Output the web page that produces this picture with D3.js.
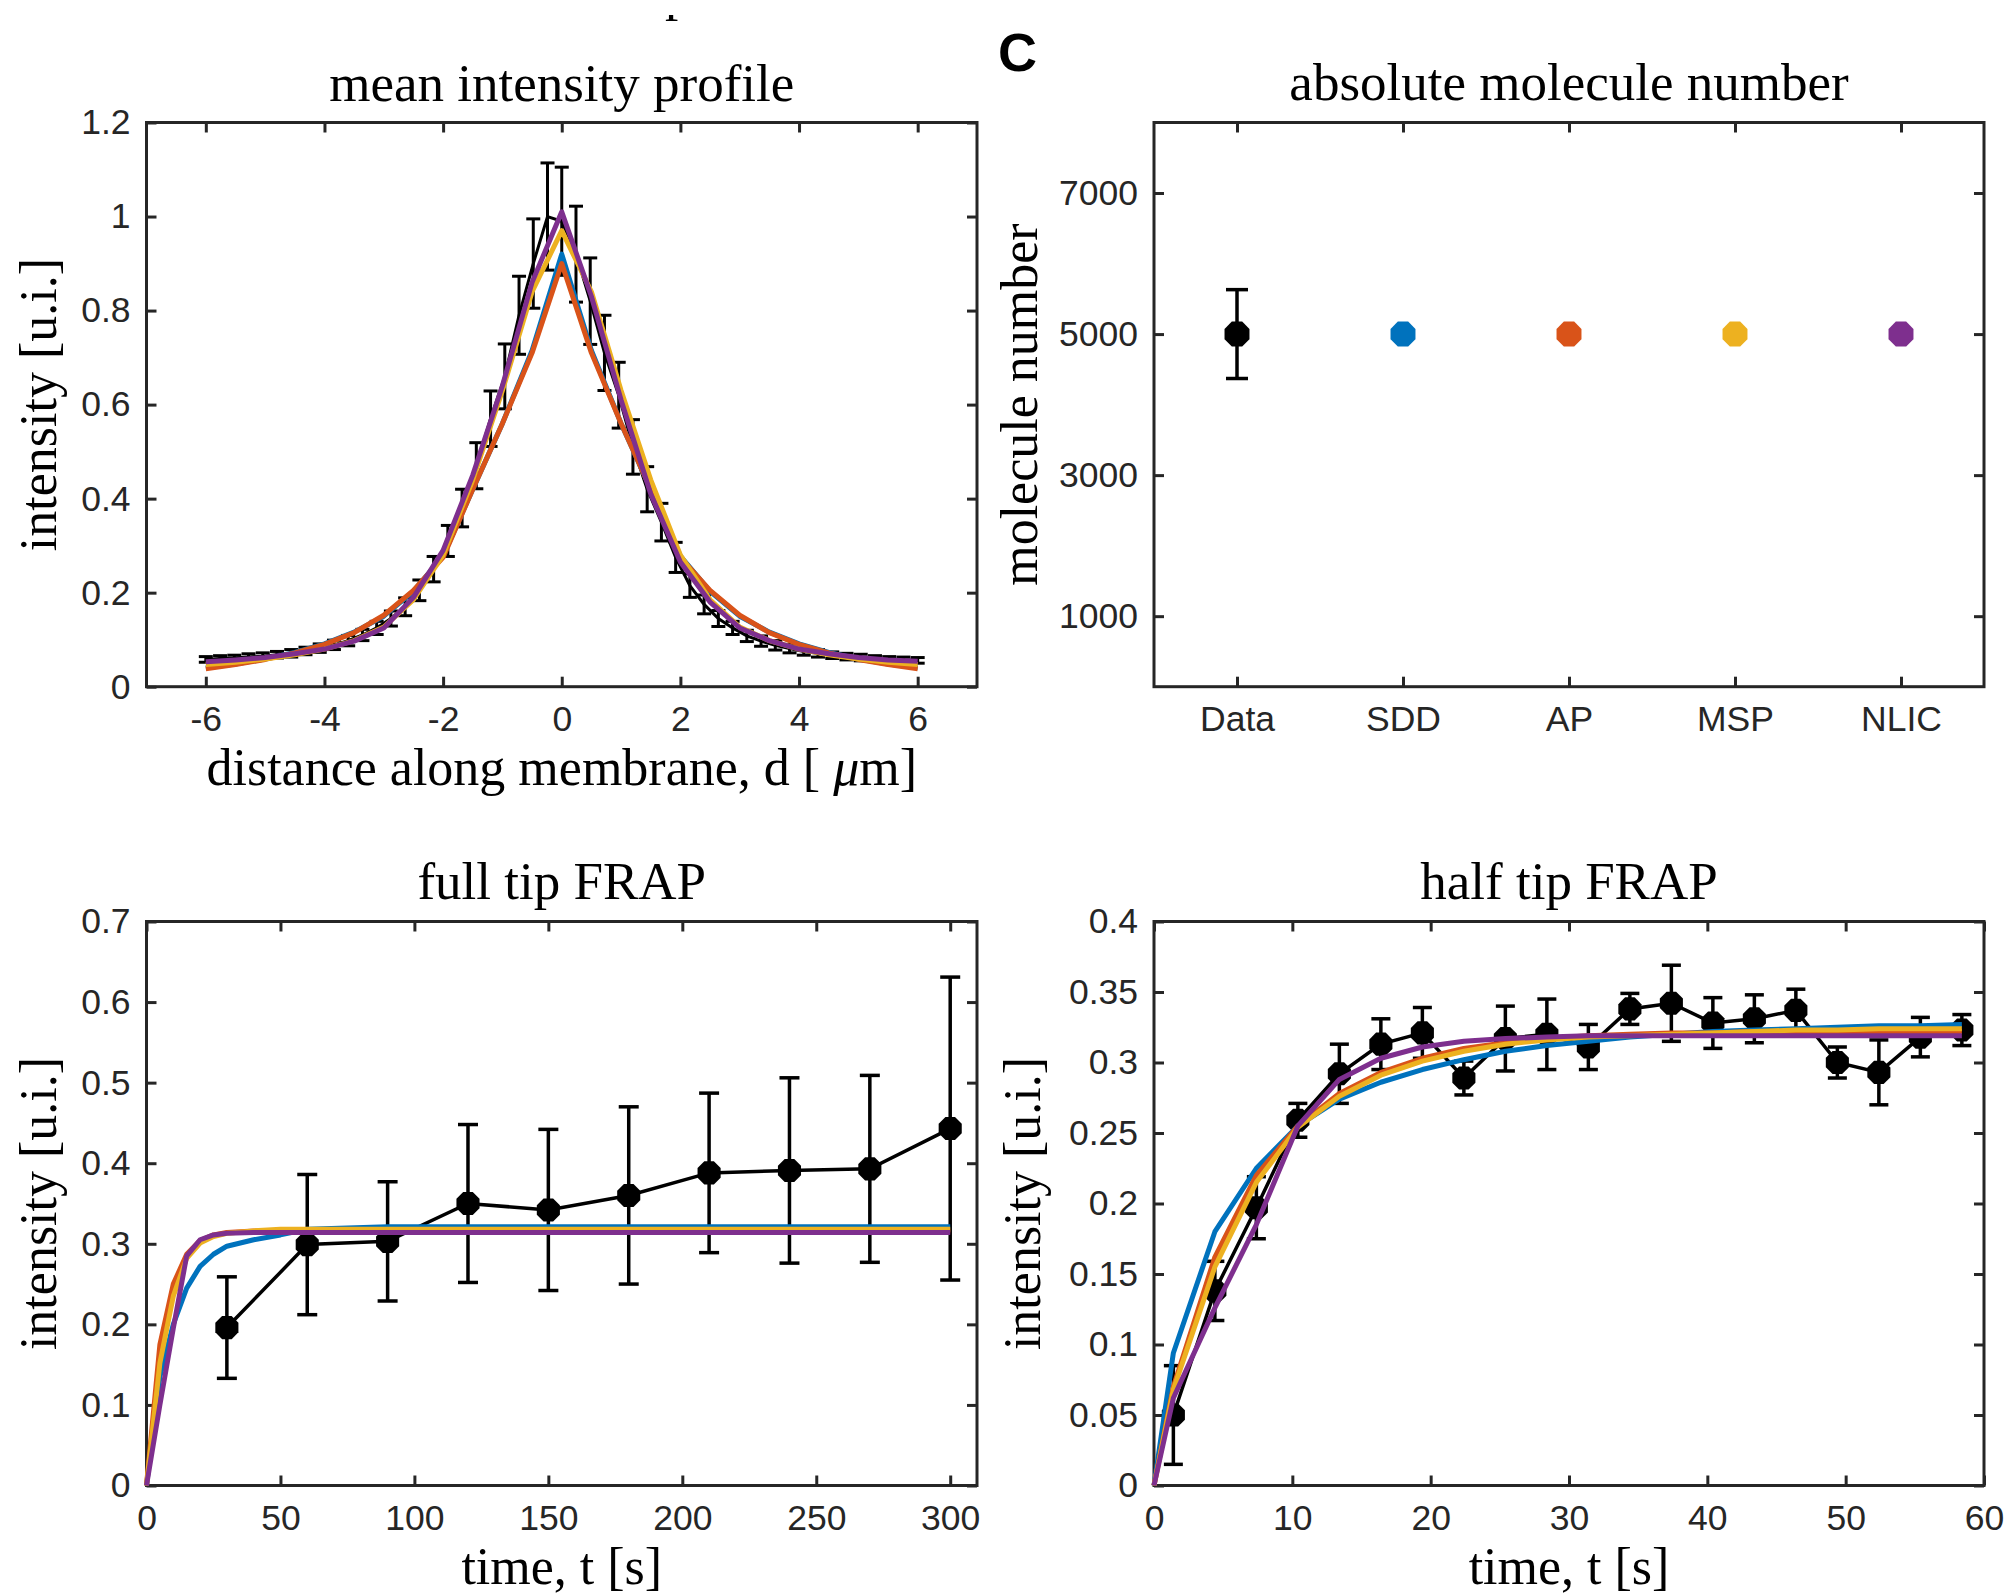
<!DOCTYPE html>
<html>
<head>
<meta charset="utf-8">
<script src="https://cdn.jsdelivr.net/npm/d3@7"></script>
<style>
  body { margin: 0; background: #fff; }
  svg { display: block; }
</style>
</head>
<body>
<div id="chart-area"></div>
<script>
// ---- data: mean intensity profile ----
const profileX = [-6, -5.76, -5.52, -5.28, -5.04, -4.8, -4.56, -4.32, -4.08, -3.84, -3.6, -3.36, -3.12,
  -2.88, -2.64, -2.4, -2.16, -1.92, -1.68, -1.44, -1.2, -0.96, -0.72, -0.48, -0.24, 0,
  0.24, 0.48, 0.72, 0.96, 1.2, 1.44, 1.68, 1.92, 2.16, 2.4, 2.64, 2.88, 3.12, 3.36, 3.6,
  3.84, 4.08, 4.32, 4.56, 4.8, 5.04, 5.28, 5.52, 5.76, 6]
const profileMean = [0.058, 0.060, 0.061, 0.063, 0.065, 0.068, 0.071, 0.076, 0.082, 0.089, 0.098, 0.110, 0.125,
  0.145, 0.170, 0.205, 0.250, 0.310, 0.380, 0.470, 0.570, 0.660, 0.790, 0.900, 1.000, 0.990,
  0.920, 0.820, 0.710, 0.620, 0.510, 0.420, 0.350, 0.275, 0.215, 0.175, 0.145, 0.125, 0.108, 0.097, 0.088,
  0.081, 0.075, 0.071, 0.067, 0.064, 0.062, 0.060, 0.058, 0.057, 0.056]
const profileErr = [0.006, 0.006, 0.006, 0.007, 0.007, 0.007, 0.008, 0.008, 0.009, 0.010, 0.011, 0.012, 0.014,
  0.016, 0.019, 0.022, 0.027, 0.033, 0.040, 0.049, 0.059, 0.069, 0.083, 0.095, 0.114, 0.115,
  0.102, 0.092, 0.080, 0.070, 0.058, 0.048, 0.040, 0.032, 0.025, 0.020, 0.017, 0.014, 0.012, 0.011, 0.010,
  0.009, 0.008, 0.008, 0.007, 0.007, 0.007, 0.006, 0.006, 0.006, 0.006]
const fitX = [-6, -5.5, -5, -4.5, -4, -3.5, -3, -2.5, -2, -1.5, -1, -0.5, 0, 0.5, 1, 1.5, 2, 2.5, 3, 3.5, 4, 4.5, 5, 5.5, 6]
const profileSDD  = [0.040, 0.048, 0.059, 0.073, 0.091, 0.116, 0.150, 0.203, 0.278, 0.420, 0.560, 0.715, 0.920, 0.715, 0.560, 0.420, 0.278, 0.203, 0.150, 0.116, 0.091, 0.073, 0.059, 0.048, 0.040]
const profileAP   = [0.038, 0.047, 0.058, 0.072, 0.090, 0.115, 0.152, 0.205, 0.275, 0.420, 0.560, 0.710, 0.900, 0.710, 0.560, 0.420, 0.275, 0.205, 0.152, 0.115, 0.090, 0.072, 0.058, 0.047, 0.038]
const profileMSP  = [0.047, 0.052, 0.059, 0.068, 0.080, 0.098, 0.127, 0.185, 0.280, 0.440, 0.630, 0.840, 0.970, 0.840, 0.630, 0.440, 0.280, 0.185, 0.127, 0.098, 0.080, 0.068, 0.059, 0.052, 0.047]
const profileNLIC = [0.053, 0.057, 0.062, 0.070, 0.080, 0.097, 0.125, 0.190, 0.290, 0.450, 0.640, 0.860, 1.010, 0.830, 0.610, 0.410, 0.265, 0.180, 0.125, 0.098, 0.080, 0.070, 0.062, 0.057, 0.054]

// ---- data: absolute molecule number ----
const moleculeCats = ["Data", "SDD", "AP", "MSP", "NLIC"]
const moleculeVals = [5000, 5000, 5000, 5000, 5000]
const moleculeErr = [630, 0, 0, 0, 0]

// ---- data: full tip FRAP ----
const fullT = [30, 60, 90, 120, 150, 180, 210, 240, 270, 300]
const fullMean = [0.196, 0.299, 0.303, 0.350, 0.342, 0.360, 0.388, 0.391, 0.393, 0.443]
const fullErr = [0.063, 0.087, 0.074, 0.098, 0.100, 0.110, 0.099, 0.115, 0.116, 0.188]
const fullFitT = [0, 5, 10, 15, 20, 25, 30, 40, 50, 60, 90, 300]
const fullSDD  = [0, 0.135, 0.200, 0.245, 0.272, 0.287, 0.297, 0.305, 0.311, 0.318, 0.321, 0.321]
const fullAP   = [0, 0.175, 0.250, 0.287, 0.304, 0.311, 0.314, 0.316, 0.316, 0.316, 0.316, 0.316]
const fullMSP  = [0, 0.152, 0.235, 0.282, 0.301, 0.309, 0.313, 0.316, 0.318, 0.318, 0.318, 0.318]
const fullNLIC = [0, 0.100, 0.195, 0.285, 0.305, 0.311, 0.313, 0.314, 0.314, 0.314, 0.314, 0.314]

// ---- data: half tip FRAP ----
const halfT = [1.4, 4.4, 7.4, 10.4, 13.4, 16.4, 19.4, 22.4, 25.4, 28.4, 31.4, 34.4, 37.4, 40.4, 43.4, 46.4, 49.4, 52.4, 55.4, 58.4]
const halfMean = [0.050, 0.138, 0.197, 0.259, 0.292, 0.313, 0.321, 0.289, 0.317, 0.320, 0.311, 0.338, 0.342, 0.328, 0.331, 0.337, 0.300, 0.293, 0.318, 0.323]
const halfErr = [0.035, 0.021, 0.022, 0.012, 0.021, 0.018, 0.018, 0.012, 0.023, 0.025, 0.016, 0.011, 0.027, 0.018, 0.017, 0.015, 0.011, 0.023, 0.014, 0.011]
const halfFitT = [0, 1.4, 4.4, 7.4, 10.4, 13.4, 16.4, 19.4, 22.4, 25.4, 28.4, 31.4, 34.4, 37.4, 40.4, 43.4, 46.4, 49.4, 52.4, 55.4, 58.4]
const halfSDD  = [0, 0.094, 0.180, 0.225, 0.255, 0.274, 0.286, 0.295, 0.302, 0.308, 0.312, 0.315, 0.318, 0.320, 0.322, 0.323, 0.324, 0.325, 0.326, 0.326, 0.327]
const halfAP   = [0, 0.070, 0.162, 0.220, 0.255, 0.278, 0.293, 0.303, 0.310, 0.314, 0.317, 0.319, 0.320, 0.321, 0.321, 0.322, 0.322, 0.322, 0.322, 0.322, 0.322]
const halfMSP  = [0, 0.068, 0.155, 0.215, 0.254, 0.276, 0.291, 0.301, 0.308, 0.313, 0.316, 0.318, 0.319, 0.320, 0.321, 0.322, 0.323, 0.323, 0.324, 0.324, 0.324]
const halfNLIC = [0, 0.062, 0.126, 0.185, 0.255, 0.288, 0.303, 0.311, 0.315, 0.317, 0.318, 0.319, 0.319, 0.319, 0.319, 0.319, 0.319, 0.319, 0.319, 0.319, 0.319]

// ---- tick labels ----
const profileXTicks = [-6, -4, -2, 0, 2, 4, 6]
const profileYTicks = [0, 0.2, 0.4, 0.6, 0.8, 1, 1.2]
const moleculeYTicks = [1000, 3000, 5000, 7000]
const fullXTicks = [0, 50, 100, 150, 200, 250, 300]
const fullYTicks = [0, 0.1, 0.2, 0.3, 0.4, 0.5, 0.6, 0.7]
const halfXTicks = [0, 10, 20, 30, 40, 50, 60]
const halfYTicks = [0, 0.05, 0.1, 0.15, 0.2, 0.25, 0.3, 0.35, 0.4]

// ---- look ----
const INK = "#262626"
const SANS = "'Liberation Sans', Arial, Helvetica, sans-serif"
const SERIF = "'Liberation Serif', 'Times New Roman', Times, serif"
const MODEL_COLORS = { SDD: "#0072BD", AP: "#D95319", MSP: "#EDB120", NLIC: "#7E2F8E" }

const svg = d3.select("#chart-area").append("svg")
  .attr("width", 2013)
  .attr("height", 1595)

const numFmt = d => String(+d.toFixed(3))

// axes box with inward ticks on all four sides
function frame(box, x, y, o) {
  const g = svg.append("g")
  const xt = o.xTicks, yt = o.yTicks

  g.append("g").attr("transform", `translate(0,${box.y1})`)
    .call(d3.axisBottom(x).tickValues(xt).tickFormat(o.xFmt).tickSizeInner(-10).tickSizeOuter(0))
    .selectAll("text").attr("y", 44).attr("dy", null)
  g.append("g").attr("transform", `translate(0,${box.y0})`)
    .call(d3.axisTop(x).tickValues(xt).tickFormat("").tickSizeInner(-10).tickSizeOuter(0))
  g.append("g").attr("transform", `translate(${box.x0},0)`)
    .call(d3.axisLeft(y).tickValues(yt).tickFormat(numFmt).tickSizeInner(-10).tickSizeOuter(0).tickPadding(16))
  g.append("g").attr("transform", `translate(${box.x1},0)`)
    .call(d3.axisRight(y).tickValues(yt).tickFormat("").tickSizeInner(-10).tickSizeOuter(0))

  g.selectAll(".domain").remove()
  g.selectAll(".tick line").attr("stroke", INK).attr("stroke-width", 3)
  g.selectAll(".tick text")
    .attr("fill", INK)
    .style("font-family", SANS)
    .style("font-size", "35.5px")

  g.append("rect")
    .attr("x", box.x0).attr("y", box.y0)
    .attr("width", box.x1 - box.x0).attr("height", box.y1 - box.y0)
    .attr("fill", "none").attr("stroke", INK).attr("stroke-width", 3)

  const cx = (box.x0 + box.x1) / 2, cy = (box.y0 + box.y1) / 2
  // title
  g.append("text")
    .attr("x", cx).attr("y", o.titleY)
    .attr("text-anchor", "middle")
    .style("font-family", SERIF).style("font-size", "53px")
    .text(o.title)
  // x label
  if (o.xLabel) {
    const t = g.append("text")
      .attr("x", cx).attr("y", box.y1 + 98)
      .attr("text-anchor", "middle")
      .style("font-family", SERIF).style("font-size", "52px")
    o.xLabel(t)
  }
  // y label
  g.append("text")
    .attr("transform", `translate(${o.yLabelX},${cy}) rotate(-90)`)
    .attr("text-anchor", "middle")
    .style("font-family", SERIF).style("font-size", "52px")
    .text(o.yLabel)
  return g
}

// octagon marker
const octagon = r => d3.line()(d3.range(8).map(i => {
  const a = (i + 0.5) * Math.PI / 4
  return [r * Math.cos(a), r * Math.sin(a)]
})) + "Z"

function errorBars(g, xs, ys, es, x, y, cap, width) {
  const eb = g.append("g").attr("stroke", "#000").attr("stroke-width", width)
  xs.forEach((d, i) => {
    const px = x(d)
    const top = y(ys[i] + es[i]), bot = y(ys[i] - es[i])
    eb.append("line").attr("x1", px).attr("x2", px).attr("y1", top).attr("y2", bot)
    eb.append("line").attr("x1", px - cap / 2).attr("x2", px + cap / 2).attr("y1", top).attr("y2", top)
    eb.append("line").attr("x1", px - cap / 2).attr("x2", px + cap / 2).attr("y1", bot).attr("y2", bot)
  })
}

function markers(g, xs, ys, x, y, r, color) {
  g.append("g").selectAll("path").data(xs).enter().append("path")
    .attr("transform", (d, i) => `translate(${x(d)},${y(ys[i])})`)
    .attr("d", octagon(r))
    .attr("fill", color)
}

function fitLines(g, xs, series, x, y) {
  const line = d3.line().x((d, i) => x(xs[i])).y(d => y(d))
  series.forEach(([name, vals]) => {
    g.append("path")
      .attr("d", line(vals))
      .attr("fill", "none")
      .attr("stroke", MODEL_COLORS[name])
      .attr("stroke-width", 5)
      .attr("stroke-linejoin", "round")
  })
}

// ===== A: mean intensity profile =====
{
  const box = { x0: 146.5, x1: 977, y0: 122.5, y1: 686.7 }
  const x = d3.scaleLinear().domain([-7, 7]).range([box.x0, box.x1])
  const y = d3.scaleLinear().domain([0, 1.2]).range([box.y1, box.y0])
  frame(box, x, y, {
    xTicks: profileXTicks, yTicks: profileYTicks, xFmt: numFmt,
    title: "mean intensity profile", titleY: 101,
    yLabel: "intensity [u.i.]", yLabelX: 56,
    xLabel: t => {
      t.append("tspan").text("distance along membrane, d [ ")
      t.append("tspan").style("font-style", "italic").text("\u03bc")
      t.append("tspan").text("m]")
    }
  })
  const g = svg.append("g")
  errorBars(g, profileX, profileMean, profileErr, x, y, 14, 3)
  g.append("path")
    .attr("d", d3.line().x((d, i) => x(profileX[i])).y(d => y(d))(profileMean))
    .attr("fill", "none").attr("stroke", "#000").attr("stroke-width", 3)
  fitLines(g, fitX, [["SDD", profileSDD], ["AP", profileAP], ["MSP", profileMSP], ["NLIC", profileNLIC]], x, y)
}

// ===== C: absolute molecule number =====
{
  const box = { x0: 1154, x1: 1984, y0: 122.5, y1: 686.7 }
  const x = d3.scalePoint().domain(moleculeCats).range([box.x0, box.x1]).padding(0.5)
  const y = d3.scaleLinear().domain([0, 8000]).range([box.y1, box.y0])
  frame(box, x, y, {
    xTicks: moleculeCats, yTicks: moleculeYTicks, xFmt: d => d,
    title: "absolute molecule number", titleY: 100,
    yLabel: "molecule number", yLabelX: 1037
  })
  const g = svg.append("g")
  errorBars(g, moleculeCats.slice(0, 1), moleculeVals.slice(0, 1), moleculeErr.slice(0, 1), x, y, 22, 3.5)
  moleculeCats.forEach((c, i) => {
    markers(g, [c], [moleculeVals[i]], x, y, 13.5, i === 0 ? "#000" : MODEL_COLORS[c])
  })
}

// ===== B: full tip FRAP =====
{
  const box = { x0: 146.5, x1: 977, y0: 921.5, y1: 1485.5 }
  const x = d3.scaleLinear().domain([0, 310]).range([box.x0, box.x1])
  const y = d3.scaleLinear().domain([0, 0.7]).range([box.y1, box.y0])
  frame(box, x, y, {
    xTicks: fullXTicks, yTicks: fullYTicks, xFmt: numFmt,
    title: "full tip FRAP", titleY: 899,
    yLabel: "intensity [u.i.]", yLabelX: 56,
    xLabel: t => t.text("time, t [s]")
  })
  const g = svg.append("g")
  errorBars(g, fullT, fullMean, fullErr, x, y, 20, 3.5)
  g.append("path")
    .attr("d", d3.line().x((d, i) => x(fullT[i])).y(d => y(d))(fullMean))
    .attr("fill", "none").attr("stroke", "#000").attr("stroke-width", 3.5)
  markers(g, fullT, fullMean, x, y, 12.5, "#000")
  fitLines(g, fullFitT, [["SDD", fullSDD], ["AP", fullAP], ["MSP", fullMSP], ["NLIC", fullNLIC]], x, y)
}

// ===== D: half tip FRAP =====
{
  const box = { x0: 1154, x1: 1984, y0: 921.5, y1: 1485.5 }
  const x = d3.scaleLinear().domain([0, 60]).range([box.x0, box.x1])
  const y = d3.scaleLinear().domain([0, 0.4]).range([box.y1, box.y0])
  frame(box, x, y, {
    xTicks: halfXTicks, yTicks: halfYTicks, xFmt: numFmt,
    title: "half tip FRAP", titleY: 899,
    yLabel: "intensity [u.i.]", yLabelX: 1040,
    xLabel: t => t.text("time, t [s]")
  })
  const g = svg.append("g")
  errorBars(g, halfT, halfMean, halfErr, x, y, 19, 3.5)
  g.append("path")
    .attr("d", d3.line().x((d, i) => x(halfT[i])).y(d => y(d))(halfMean))
    .attr("fill", "none").attr("stroke", "#000").attr("stroke-width", 3.5)
  markers(g, halfT, halfMean, x, y, 12.5, "#000")
  fitLines(g, halfFitT, [["SDD", halfSDD], ["AP", halfAP], ["MSP", halfMSP], ["NLIC", halfNLIC]], x, y)
}

// panel letter
svg.append("text")
  .attr("x", 998).attr("y", 70.5)
  .style("font-family", SANS).style("font-weight", "bold").style("font-size", "54px")
  .text("C")

// cropped remnant of text above the figure
svg.append("clipPath").attr("id", "cut")
  .append("rect").attr("x", 600).attr("y", 15).attr("width", 200).attr("height", 20)
svg.append("text")
  .attr("x", 665).attr("y", 10)
  .attr("clip-path", "url(#cut)")
  .style("font-family", SERIF).style("font-size", "53px")
  .text("p")
</script>
</body>
</html>
